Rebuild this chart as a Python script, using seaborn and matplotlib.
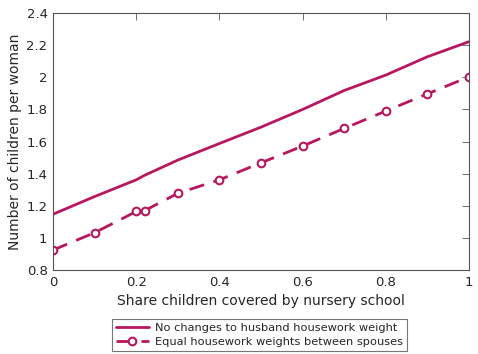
import matplotlib
matplotlib.use("Agg")
import matplotlib.pyplot as plt
import seaborn as sns
import pandas as pd

share = [0, 0.1, 0.2, 0.22, 0.3, 0.4, 0.5, 0.6, 0.7, 0.8, 0.9, 1.0]
no_change = [1.148, 1.258, 1.362, 1.39, 1.485, 1.588, 1.69, 1.80, 1.918, 2.014, 2.128, 2.222]
equal_hw = [0.925, 1.033, 1.165, 1.17, 1.278, 1.362, 1.468, 1.572, 1.682, 1.79, 1.897, 2.003]

label1 = "No changes to husband housework weight"
label2 = "Equal housework weights between spouses"
color = "#B8175F"

sns.set_style("white")
plt.rcParams['font.family'] = ['DejaVu Sans']

fig = plt.figure(figsize=(4.78, 3.54), dpi=100)
ax = fig.add_axes([0.111, 0.237, 0.870, 0.726])

df1 = pd.DataFrame({"x": share, "y": no_change})
df2 = pd.DataFrame({"x": share, "y": equal_hw})
sns.lineplot(data=df1, x="x", y="y", ax=ax, color=color, linewidth=2.0, label=label1)
sns.lineplot(data=df2, x="x", y="y", ax=ax, color=color, linewidth=2.0, linestyle=(0, (5.5, 3.5)),
             marker="o", markersize=5.5, markerfacecolor="white", markeredgecolor=color,
             markeredgewidth=1.5, label=label2)

ax.set_xlim(0, 1)
ax.set_ylim(0.8, 2.4)
ax.set_xticks([0, 0.2, 0.4, 0.6, 0.8, 1])
ax.set_xticklabels(["0", "0.2", "0.4", "0.6", "0.8", "1"])
ax.set_yticks([0.8, 1, 1.2, 1.4, 1.6, 1.8, 2, 2.2, 2.4])
ax.set_yticklabels(["0.8", "1", "1.2", "1.4", "1.6", "1.8", "2", "2.2", "2.4"])
ax.tick_params(direction="in", length=5, width=0.6, colors="#555555", labelsize=9.5,
               top=True, right=True, labelcolor="#262626", pad=4)
for s in ax.spines.values():
    s.set_color("#555555")
    s.set_linewidth(0.8)
ax.set_xlabel("Share children covered by nursery school", fontsize=10, color="#262626", labelpad=4)
ax.set_ylabel("Number of children per woman", fontsize=10, color="#262626", labelpad=3)

handles, labels = ax.get_legend_handles_labels()
ax.get_legend().remove()
leg = fig.legend(handles, labels, loc="lower center", bbox_to_anchor=(0.543, 0.0), fontsize=8.2,
                 frameon=True, fancybox=False, edgecolor="#555555", handlelength=2.9,
                 borderpad=0.35, labelspacing=0.3, handletextpad=0.6, borderaxespad=0.3)
leg.get_frame().set_linewidth(0.8)

fig.savefig("out.png", dpi=100)
